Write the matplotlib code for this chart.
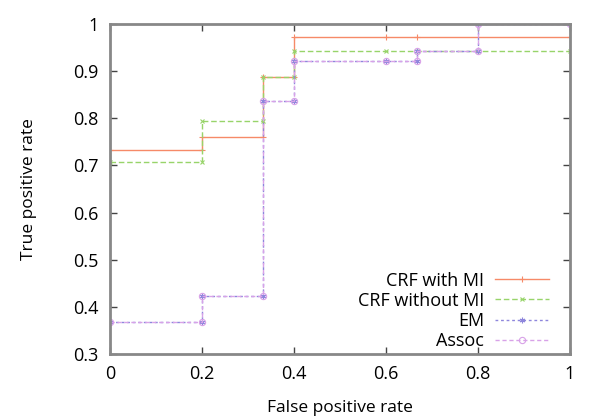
import matplotlib
matplotlib.use("Agg")
import matplotlib.pyplot as plt

plt.rcParams['font.family'] = ['Open Sans', 'DejaVu Sans']

# ROC points
crf_mi_fpr = [0, 0.2, 0.2, 0.333, 0.333, 0.4, 0.4, 0.6, 0.667, 1.0]
crf_mi_tpr = [0.733, 0.733, 0.761, 0.761, 0.887, 0.887, 0.972, 0.972, 0.972, 0.972]

crf_nomi_fpr = [0, 0.2, 0.2, 0.333, 0.333, 0.4, 0.4, 0.6, 0.667, 0.8, 1.0]
crf_nomi_tpr = [0.707, 0.707, 0.795, 0.795, 0.887, 0.887, 0.943, 0.943, 0.943, 0.943, 0.943]

em_fpr = [0, 0.2, 0.2, 0.333, 0.333, 0.4, 0.4, 0.6, 0.667, 0.667, 0.8, 0.8, 1.0]
em_tpr = [0.367, 0.367, 0.424, 0.424, 0.837, 0.837, 0.922, 0.922, 0.922, 0.943, 0.943, 1.0, 1.0]

assoc_fpr = [0, 0.2, 0.2, 0.333, 0.333, 0.4, 0.4, 0.6, 0.667, 0.667, 0.8, 0.8, 1.0]
assoc_tpr = [0.367, 0.367, 0.424, 0.424, 0.837, 0.837, 0.922, 0.922, 0.922, 0.943, 0.943, 1.0, 1.0]

xticks = [0, 0.2, 0.4, 0.6, 0.8, 1]
yticks = [0.3, 0.4, 0.5, 0.6, 0.7, 0.8, 0.9, 1]

fig = plt.figure(figsize=(6, 4.2), dpi=100)
ax = fig.add_axes([0.183, 0.157, 0.767, 0.786])

ax.plot(crf_mi_fpr, crf_mi_tpr, color='#f68a68', lw=1.0, ls='-',
        marker='+', ms=4, mew=0.8, label='CRF with MI')
ax.plot(crf_nomi_fpr, crf_nomi_tpr, color='#98d46a', lw=1.0, ls=(0, (4, 2)),
        marker='x', ms=3.5, mew=0.8, label='CRF without MI')
ax.plot(em_fpr, em_tpr, color='#8e86dc', lw=1.0, ls=(0, (2, 2)),
        marker=(6, 2, 0), ms=4, mew=0.8, label='EM')
ax.plot(assoc_fpr, assoc_tpr, color='#d8a2e8', lw=1.0, ls=(0, (3, 2)),
        marker='o', ms=4.5, mfc='none', mew=0.8, label='Assoc')

ax.set_xlim(0, 1)
ax.set_ylim(0.3, 1)
ax.set_xticks(xticks)
ax.set_xticklabels(['0', '0.2', '0.4', '0.6', '0.8', '1'])
ax.set_yticks(yticks)
ax.set_yticklabels(['0.3', '0.4', '0.5', '0.6', '0.7', '0.8', '0.9', '1'])
ax.tick_params(direction='in', top=True, right=True, length=5, width=1,
               labelsize=13, pad=8, color='#444444')
for s in ax.spines.values():
    s.set_color('#888888')
    s.set_linewidth(2)

ax.set_xlabel('False positive rate', fontsize=12.5, labelpad=12)
ax.set_ylabel('True positive rate', fontsize=12.5, labelpad=26)

ax.legend(loc='lower right', bbox_to_anchor=(0.97, -0.01), frameon=False,
          markerfirst=False, fontsize=13, handlelength=3.0,
          labelspacing=0.12, borderaxespad=0.0, handletextpad=0.6)

fig.savefig('out.png', dpi=100)
